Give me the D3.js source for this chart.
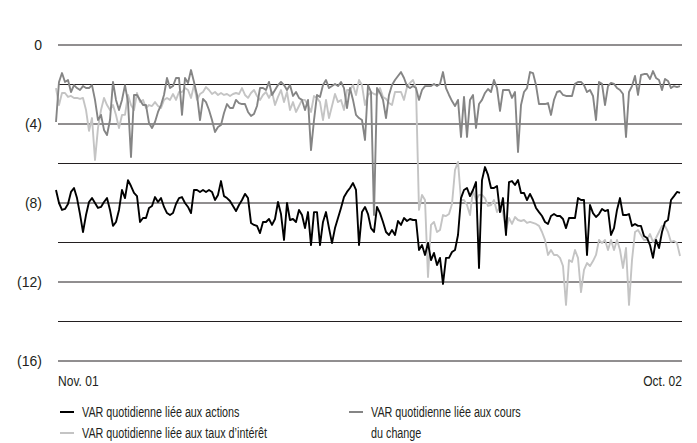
<!DOCTYPE html>
<html>
  <head>
    <meta charset="utf-8">
    <title>VAR quotidienne</title>
    <script src="https://d3js.org/d3.v7.min.js"></script>
    <style>
      body { margin: 0; background: #fff; }
      svg { display: block; }
      text { font-family: "Liberation Sans", Arial, sans-serif; font-size: 14px; fill: #231f20; }
      .grid line { stroke: #231f20; stroke-width: 1; }
      .series { fill: none; stroke-width: 1.9; stroke-linejoin: round; }
    </style>
  </head>
  <body>
    <svg id="chart" width="697" height="443"></svg>
    <script>
      // daily VaR (absolute values, shown in brackets), Nov. 01 to Oct. 02
      var periodLabels = ["Nov. 01", "Oct. 02"];
      var yTicks = [0, 2, 4, 6, 8, 10, 12, 14, 16];
      var yLabels = [0, 4, 8, 12, 16];

      var actions = [7.34, 8.0, 8.35, 8.3, 8.05, 7.44, 7.24, 7.75, 8.56, 9.47,
        8.61, 7.95, 7.75, 8.0, 8.25, 8.2, 7.95, 7.75, 8.35, 9.16,
        8.96, 8.35, 7.34, 7.75, 6.84, 7.14, 7.49, 7.65, 8.96, 8.76,
        8.76, 8.25, 8.15, 7.7, 7.95, 7.75, 8.2, 8.51, 8.61, 8.51,
        8.05, 7.75, 7.7, 8.0, 8.2, 8.51, 7.34, 7.34, 7.44, 7.34,
        7.44, 7.34, 7.44, 7.85, 7.59, 6.89, 7.65, 7.75, 7.9, 8.15,
        8.41, 8.1, 7.85, 7.54, 7.75, 9.01, 9.11, 9.16, 9.52, 8.96,
        8.96, 8.81, 9.11, 8.81, 7.95, 8.56, 9.87, 8.0, 8.86, 8.81,
        8.96, 8.35, 8.61, 9.27, 8.46, 10.13, 8.46, 8.46, 10.13, 8.96,
        8.46, 9.27, 10.03, 9.27, 8.76, 8.25, 7.7, 7.44, 7.24, 6.99,
        7.34, 10.13, 8.46, 8.2, 8.56, 9.27, 9.47, 8.2, 8.51, 8.96,
        9.47, 9.62, 9.37, 9.62, 8.91, 9.11, 8.76, 8.91, 8.81, 8.86,
        8.86, 10.38, 10.13, 10.63, 10.03, 10.89, 10.53, 11.14, 10.78, 12.1,
        10.78, 10.78, 10.48, 10.38, 9.62, 7.75, 7.34, 7.24, 7.65, 7.34,
        6.94, 11.29, 6.84, 6.18, 6.58, 7.24, 7.24, 7.14, 8.46, 7.75,
        9.62, 6.94, 6.89, 7.09, 6.84, 7.49, 7.49, 7.85, 7.54, 7.85,
        8.25, 8.46, 8.66, 8.96, 9.06, 8.66, 8.56, 8.66, 8.66, 8.81,
        9.27, 8.76, 8.76, 8.76, 7.75, 7.85, 7.85, 10.63, 8.1, 8.51,
        8.71, 8.56, 8.3, 8.41, 8.35, 9.62, 9.27, 8.35, 7.75, 8.61,
        8.61, 8.56, 9.16, 9.06, 9.16, 9.16, 9.67, 9.77, 10.13, 10.78,
        9.87, 10.28, 9.47, 8.96, 8.86, 7.85, 7.65, 7.44, 7.49];

      var tauxInteret = [2.18, 3.04, 2.43, 2.43, 2.63, 2.58, 2.68, 2.68, 2.73, 2.68,
        3.29, 4.35, 3.7, 5.82, 4.2, 3.29, 2.68, 3.04, 3.29, 3.04,
        3.54, 4.2, 3.54, 3.54, 2.53, 3.04, 3.29, 2.43, 2.89, 2.78,
        3.19, 3.04, 3.09, 2.89, 3.09, 3.19, 2.78, 2.68, 2.78, 2.48,
        2.78, 2.38, 2.38, 2.18, 2.28, 2.68, 2.03, 2.78, 2.48, 2.38,
        2.13, 2.28, 2.48, 2.38, 2.53, 2.43, 2.53, 2.48, 2.58, 2.48,
        2.43, 2.48, 2.18, 2.53, 2.68, 2.43, 2.28, 2.58, 2.78, 2.53,
        2.38, 2.68, 2.38, 3.04, 2.63, 2.28, 2.89, 2.38, 3.29, 2.89,
        3.39, 3.09, 2.78, 2.78, 3.04, 3.39, 2.58, 2.68, 2.89, 3.8,
        2.78, 3.7, 3.09, 2.48, 2.89, 2.78, 3.29, 2.28, 2.28, 2.03,
        2.53, 1.77, 2.03, 3.04, 2.53, 2.38, 2.48, 2.53, 2.18, 2.63,
        2.73, 2.94, 3.04, 2.38, 2.38, 2.38, 2.78, 2.13, 1.92, 1.77,
        2.18, 8.35, 7.59, 7.85, 11.75, 9.11, 8.96, 9.47, 9.37, 8.61,
        8.66, 8.56, 8.05, 6.33, 5.92, 7.85, 7.85, 8.1, 8.61, 7.34,
        7.85, 7.59, 7.59, 7.75, 8.15, 8.1, 7.85, 8.46, 8.2, 8.51,
        9.37, 8.76, 9.06, 8.71, 8.86, 8.91, 8.86, 9.01, 8.96, 9.01,
        9.06, 9.16, 9.47, 9.87, 10.63, 10.38, 10.63, 10.63, 10.78, 11.19,
        13.16, 10.89, 10.99, 10.38, 10.78, 12.51, 11.39, 11.04, 11.19, 10.94,
        10.63, 9.87, 10.03, 9.87, 10.38, 9.87, 10.38, 9.87, 10.38, 11.29,
        10.28, 13.16, 10.89, 9.47, 9.37, 9.62, 9.87, 9.87, 9.57, 9.97,
        9.77, 9.47, 9.16, 9.16, 9.47, 9.97, 9.92, 10.03, 10.68];

      var coursChange = [3.9, 1.87, 1.42, 1.87, 1.77, 2.38, 2.03, 2.18, 2.28, 2.08,
        2.18, 2.18, 2.03, 2.78, 3.8, 3.54, 4.3, 4.56, 3.8, 1.87,
        2.78, 3.29, 2.78, 2.03, 2.89, 5.67, 2.53, 2.53, 2.78, 3.04,
        3.04, 3.95, 4.2, 3.9, 3.39, 3.04, 2.53, 1.67, 2.18, 2.08,
        1.67, 1.67, 3.54, 1.67, 1.92, 1.27, 1.87, 2.53, 3.8, 2.73,
        2.89, 3.29, 3.8, 4.41, 4.15, 4.05, 3.44, 2.99, 3.19, 3.19,
        2.78, 2.94, 2.99, 2.99, 3.39, 3.59, 3.49, 3.09, 2.18, 2.18,
        2.28, 1.87, 2.53, 2.28, 2.03, 1.87, 2.03, 2.28, 2.03, 2.58,
        2.38, 2.68, 2.78, 3.29, 2.78, 5.32, 3.8, 2.53, 2.63, 2.03,
        1.77, 2.18, 2.08, 1.97, 2.08, 1.87, 2.18, 3.19, 2.18, 2.78,
        3.54, 3.7, 3.8, 4.81, 2.03, 2.38, 8.61, 2.18, 2.43, 2.78,
        3.7, 2.53, 2.03, 1.77, 1.57, 1.37, 1.67, 2.08, 2.18, 2.08,
        2.18, 2.78, 2.28, 2.08, 2.08, 2.08, 1.97, 2.08, 1.97, 1.37,
        2.18, 2.53, 2.84, 3.09, 2.78, 4.66, 2.63, 4.66, 2.78, 2.53,
        4.2, 2.99, 2.78, 2.43, 2.23, 2.38, 1.77, 2.18, 3.34, 2.28,
        2.28, 2.28, 2.68, 2.38, 5.42, 3.04, 2.38, 2.18, 1.37, 1.42,
        2.03, 2.99, 2.99, 2.99, 2.94, 3.54, 2.78, 2.38, 2.33, 2.53,
        2.58, 2.58, 2.58, 1.97, 1.87, 1.87, 2.03, 2.38, 2.28, 2.58,
        3.8, 1.87, 1.97, 3.04, 2.08, 1.92, 1.97, 2.18, 2.28, 2.48,
        4.66, 2.38, 2.08, 1.57, 2.53, 1.52, 1.47, 1.47, 1.72, 1.32,
        1.67, 1.77, 2.28, 1.72, 1.82, 2.18, 2.08, 2.13, 2.08];

      var seriesNames = [
        "VAR quotidienne liée aux actions",
        "VAR quotidienne liée aux taux d\u2019intérêt",
        "VAR quotidienne liée aux cours du change"
      ];
      var seriesColours = ["#000000", "#c4c4c4", "#858585"];

      var svg = d3.select("#chart");
      var plotLeft = 58, plotRight = 682, plotTop = 45, plotBottom = 361;

      var x = d3.scaleLinear()
        .domain([0, actions.length - 1])
        .range([plotLeft - 2, plotRight - 2]);
      var y = d3.scaleLinear()
        .domain([0, 16])
        .range([plotTop, plotBottom]);

      // the original type is a condensed face, so narrow the text a bit
      function condense(factor) {
        return function(sel) {
          sel.each(function() {
            var w = this.getComputedTextLength();
            d3.select(this)
              .attr("textLength", w * factor)
              .attr("lengthAdjust", "spacingAndGlyphs");
          });
        };
      }

      // grid
      var grid = svg.append("g").attr("class", "grid");
      grid.selectAll("line")
          .data(yTicks)
        .enter().append("line")
          .attr("x1", plotLeft)
          .attr("x2", plotRight)
          .attr("y1", function(d) { return y(d); })
          .attr("y2", function(d) { return y(d); });
      svg.append("g")
        .selectAll("text")
          .data(yLabels)
        .enter().append("text")
          .attr("x", 42)
          .attr("y", function(d) { return y(d); })
          .attr("dy", "0.35em")
          .attr("text-anchor", "end")
          .text(function(d) { return d === 0 ? "0" : "(" + d + ")"; });

      // period labels
      svg.append("text")
        .attr("x", plotLeft)
        .attr("y", 386)
        .text(periodLabels[0])
        .call(condense(0.86));
      svg.append("text")
        .attr("x", plotRight)
        .attr("y", 386)
        .attr("text-anchor", "end")
        .text(periodLabels[1])
        .call(condense(0.86));

      // lines, light first so the darker ones sit on top
      var line = d3.line()
        .x(function(d, i) { return x(i); })
        .y(function(d) { return y(d); });
      [[tauxInteret, 1], [coursChange, 2], [actions, 0]].forEach(function(s) {
        svg.append("path")
          .datum(s[0])
          .attr("class", "series")
          .attr("stroke", seriesColours[s[1]])
          .attr("d", line);
      });

      // legend
      var legendItems = [
        { i: 0, x: 60, y: 412, lines: [seriesNames[0]] },
        { i: 1, x: 60, y: 433, lines: [seriesNames[1]] },
        { i: 2, x: 349, y: 412, lines: ["VAR quotidienne liée aux cours", "du change"] }
      ];
      var legend = svg.append("g");
      legendItems.forEach(function(d) {
        legend.append("line")
          .attr("x1", d.x)
          .attr("x2", d.x + 14)
          .attr("y1", d.y)
          .attr("y2", d.y)
          .attr("stroke", seriesColours[d.i])
          .attr("stroke-width", 2);
        d.lines.forEach(function(t, k) {
          legend.append("text")
            .attr("x", d.x + 22)
            .attr("y", d.y + k * 21)
            .attr("dy", "0.35em")
            .text(t)
            .call(condense(0.77));
        });
      });
    </script>
  </body>
</html>
